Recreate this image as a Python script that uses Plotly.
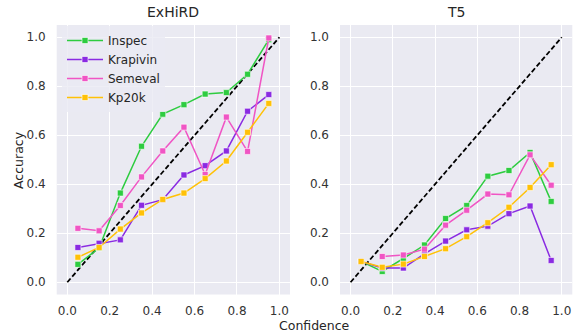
import plotly.graph_objects as go

bins = [0.05, 0.15, 0.25, 0.35, 0.45, 0.55, 0.65, 0.75, 0.85, 0.95]
tick_vals = [0.0, 0.2, 0.4, 0.6, 0.8, 1.0]
tick_text = ["0.0", "0.2", "0.4", "0.6", "0.8", "1.0"]
diag = [0.0, 1.0]

exhird_inspec = [0.073, 0.14, 0.364, 0.555, 0.686, 0.725, 0.768, 0.774, 0.849, 0.99]
exhird_krapivin = [0.142, 0.159, 0.173, 0.314, 0.337, 0.438, 0.476, 0.536, 0.698, 0.766]
exhird_semeval = [0.220, 0.210, 0.313, 0.430, 0.536, 0.633, 0.440, 0.674, 0.534, 0.997]
exhird_kp20k = [0.102, 0.142, 0.217, 0.283, 0.338, 0.364, 0.423, 0.495, 0.612, 0.730]

t5_inspec = [0.085, 0.044, 0.097, 0.152, 0.260, 0.313, 0.433, 0.456, 0.530, 0.330]
t5_krapivin = [0.085, 0.058, 0.058, 0.116, 0.168, 0.214, 0.229, 0.280, 0.311, 0.089]
t5_semeval = [None, 0.105, 0.111, 0.135, 0.233, 0.294, 0.360, 0.357, 0.520, 0.396]
t5_kp20k = [0.085, 0.061, 0.074, 0.105, 0.137, 0.186, 0.243, 0.306, 0.387, 0.480]

names = ["Inspec", "Krapivin", "Semeval", "Kp20k"]
colors = ["#2ecc40", "#8a2be2", "#f055c4", "#ffc107"]

W, H = 575, 333
font_fam = "DejaVu Sans"
txt = "#262626"

fig = go.Figure()

panels = [
    ("x", "y", [exhird_inspec, exhird_krapivin, exhird_semeval, exhird_kp20k], True),
    ("x2", "y2", [t5_inspec, t5_krapivin, t5_semeval, t5_kp20k], False),
]
for xa, ya, series, show in panels:
    fig.add_trace(go.Scatter(
        x=diag, y=diag, xaxis=xa, yaxis=ya, mode="lines",
        line=dict(color="black", width=1.8, dash="5px,2.5px"),
        showlegend=False, hoverinfo="skip"))
    for name, col, vals in zip(names, colors, series):
        fig.add_trace(go.Scatter(
            x=bins, y=vals, xaxis=xa, yaxis=ya, mode="lines+markers", name=name,
            line=dict(color=col, width=1.5),
            marker=dict(symbol="square", size=6, color=col,
                        line=dict(color="white", width=0.6)),
            showlegend=show, connectgaps=False))

def px_x(p):
    return p / W

def px_y(p):
    return 1 - p / H

axis_common = dict(
    range=[-0.05, 1.05], tickvals=tick_vals, ticktext=tick_text,
    showgrid=True, gridcolor="white", gridwidth=1, zeroline=False,
    showline=False, ticks="",
    tickfont=dict(family=font_fam, size=12, color="#333333"),
)

fig.update_layout(
    width=W, height=H,
    margin=dict(l=0, r=0, t=0, b=0),
    paper_bgcolor="white", plot_bgcolor="#EAEAF2",
    font=dict(family=font_fam, color=txt),
    xaxis=dict(domain=[px_x(56.7), px_x(290)], anchor="y", ticklabelstandoff=7, **axis_common),
    yaxis=dict(domain=[px_y(294.5), px_y(25)], anchor="x", ticklabelstandoff=10, **axis_common),
    xaxis2=dict(domain=[px_x(340), px_x(572.3)], anchor="y2", ticklabelstandoff=7, **axis_common),
    yaxis2=dict(domain=[px_y(294.5), px_y(25)], anchor="x2", ticklabelstandoff=10, **axis_common),
    legend=dict(x=px_x(62), y=px_y(26), xanchor="left", yanchor="top",
                bgcolor="rgba(234,234,242,0.8)", borderwidth=0,
                font=dict(family=font_fam, size=12, color=txt),
                tracegroupgap=0, itemwidth=36),
    showlegend=True,
    annotations=[
        dict(text="ExHiRD", x=(px_x(56.7) + px_x(290)) / 2, y=px_y(12), xref="paper", yref="paper",
             showarrow=False, font=dict(size=14, family=font_fam, color=txt), xanchor="center", yanchor="middle"),
        dict(text="T5", x=(px_x(340) + px_x(572.3)) / 2, y=px_y(12), xref="paper", yref="paper",
             showarrow=False, font=dict(size=14, family=font_fam, color=txt), xanchor="center", yanchor="middle"),
        dict(text="Confidence", x=px_x(314), y=px_y(325), xref="paper", yref="paper",
             showarrow=False, font=dict(size=12.5, family=font_fam, color=txt), xanchor="center", yanchor="middle"),
        dict(text="Accuracy", x=px_x(18), y=px_y(160), xref="paper", yref="paper", textangle=-90,
             showarrow=False, font=dict(size=12.5, family=font_fam, color=txt), xanchor="center", yanchor="middle"),
    ],
)

fig.write_html("out.html", config={"displayModeBar": False},
               post_script="document.body.style.margin='0px';document.body.style.overflow='hidden';")
